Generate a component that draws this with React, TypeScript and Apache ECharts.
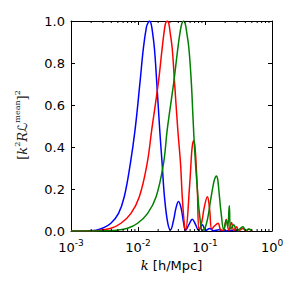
import React, { useEffect, useRef } from "react";
import * as echarts from "echarts";

// log10(k) positions and [k^2 R L^mean]^2 values
const blueLogK = [-3, -2.88, -2.73, -2.625, -2.5305, -2.4045, -2.2905, -2.205, -2.115, -2.0445, -1.9695, -1.92, -1.875, -1.8525, -1.83, -1.8075, -1.785, -1.755, -1.7205, -1.6755, -1.6395, -1.605, -1.5555, -1.515, -1.47, -1.4325, -1.395, -1.3575, -1.32, -1.29, -1.2405, -1.1895, -1.14, -1.095, -1.0395, -0.99, -0.93, -0.87, -0.795, -0.72, -0.6, -0.48];
const blueVals = [0, 0, 0.001, 0.004, 0.013, 0.037, 0.084, 0.163, 0.32, 0.48, 0.71, 0.87, 0.97, 0.99, 1.0, 0.99, 0.95, 0.87, 0.71, 0.48, 0.32, 0.163, 0.037, 0.005, 0.05, 0.11, 0.14, 0.11, 0.04, 0.003, 0.03, 0.056, 0.03, 0.002, 0.03, 0.002, 0.012, 0.001, 0.006, 0, 0.003, 0];

const redLogK = [-3, -2.73, -2.58, -2.4045, -2.2545, -2.1045, -1.98, -1.8645, -1.7955, -1.695, -1.6395, -1.605, -1.587, -1.5645, -1.542, -1.5225, -1.4895, -1.455, -1.4055, -1.365, -1.3395, -1.305, -1.29, -1.23, -1.2, -1.185, -1.17, -1.155, -1.14, -1.1145, -1.0875, -1.05, -1.0125, -0.9645, -0.93, -0.9, -0.855, -0.8055, -0.765, -0.7275, -0.6825, -0.645, -0.605, -0.57, -0.53, -0.495, -0.435, -0.39, -0.345, -0.3];
const redVals = [0, 0, 0.003, 0.013, 0.037, 0.084, 0.163, 0.32, 0.48, 0.71, 0.87, 0.96, 0.99, 1.0, 0.99, 0.95, 0.87, 0.71, 0.48, 0.32, 0.163, 0.02, 0.003, 0.215, 0.37, 0.415, 0.43, 0.415, 0.36, 0.2, 0.005, 0.04, 0.11, 0.163, 0.1, 0.01, 0.025, 0.037, 0.005, 0.003, 0.055, 0.003, 0.04, 0.002, 0.02, 0.001, 0.012, 0.001, 0.008, 0];

const greenLogK = [-3, -2.655, -2.505, -2.31, -2.1555, -2.0055, -1.8555, -1.7295, -1.62, -1.5645, -1.4655, -1.4055, -1.365, -1.3425, -1.32, -1.2975, -1.275, -1.2405, -1.2045, -1.1805, -1.155, -1.1145, -1.08, -1.0395, -1.005, -0.96, -0.915, -0.87, -0.8475, -0.8295, -0.81, -0.795, -0.7575, -0.72, -0.6825, -0.66, -0.6375, -0.615, -0.57, -0.525, -0.48, -0.435, -0.39, -0.345, -0.3];
const greenVals = [0, 0, 0.001, 0.004, 0.013, 0.037, 0.084, 0.163, 0.32, 0.48, 0.71, 0.87, 0.96, 0.99, 1.0, 0.99, 0.95, 0.87, 0.71, 0.55, 0.39, 0.2, 0.076, 0.003, 0.01, 0.06, 0.15, 0.23, 0.255, 0.262, 0.245, 0.2, 0.08, 0.005, 0.05, 0.02, 0.12, 0.01, 0.03, 0.002, 0.01, 0.02, 0.002, 0.01, 0];

const xMajorTicks = [0.001, 0.01, 0.1, 1];
const minorMultipliers = [2, 3, 4, 5, 6, 7, 8, 9];

const toPairs = (lk: number[], v: number[]) => lk.map((l, i) => [Math.pow(10, l), v[i]]);

export default function App() {
  const ref = useRef<HTMLDivElement>(null);
  useEffect(() => {
    if (!ref.current) return;
    const chart = echarts.init(ref.current, null, { renderer: "svg" });
    const minorTicks: number[] = [];
    xMajorTicks.slice(0, -1).forEach((d) => minorMultipliers.forEach((m) => minorTicks.push(d * m)));
    const lineSeries = (data: number[][], color: string) => ({
      type: "line",
      data,
      smooth: 0.4,
      showSymbol: false,
      symbol: "none",
      lineStyle: { color, width: 1.5 },
      z: 3,
    });
    const tickStyle = { color: "#000", width: 1 };
    const axisLine = { show: true, onZero: false, lineStyle: { color: "#000", width: 1 } };
    chart.setOption({
      animation: false,
      grid: { left: 71, right: 28, top: 21, bottom: 69, show: false },
      graphic: [
        {
          type: "text",
          x: 21,
          y: 125,
          rotation: Math.PI / 2,
          style: {
            text: "{t|[}{i|k}{s|2}{i|R}{l|ℒ}{s|mean}{t|]}{s|2}",
            align: "center",
            verticalAlign: "middle",
            fill: "#222",
            rich: {
              t: { fontFamily: "DejaVu Serif", fontSize: 13, fill: "#222", lineHeight: 16, verticalAlign: "bottom" },
              i: { fontFamily: "DejaVu Serif", fontStyle: "italic", fontSize: 13, fill: "#222", lineHeight: 16, verticalAlign: "bottom" },
              l: { fontFamily: "DejaVu Sans", fontSize: 13, fill: "#222", lineHeight: 16, verticalAlign: "bottom" },
              s: { fontFamily: "DejaVu Serif", fontSize: 8, fill: "#222", lineHeight: 16, verticalAlign: "top" },
            },
          },
        },
      ],
      xAxis: [
        {
          type: "log",
          logBase: 10,
          min: 0.001,
          max: 1,
          splitNumber: 3,
          position: "bottom",
          axisLine,
          axisTick: { show: true, inside: true, length: 4, lineStyle: tickStyle },
          splitLine: { show: false },
          axisLabel: {
            margin: 7,
            formatter: (v: number) => `{b|10}{s|${Math.round(Math.log10(v))}}`,
            rich: {
              b: { fontFamily: "DejaVu Sans", fontSize: 13, color: "#000", lineHeight: 16, verticalAlign: "bottom" },
              s: { fontFamily: "DejaVu Sans", fontSize: 9, color: "#000", lineHeight: 16, verticalAlign: "top" },
            },
          },
          name: "{i|k} [h/Mpc]",
          nameLocation: "middle",
          nameGap: 25,
          nameTextStyle: {
            fontFamily: "DejaVu Sans",
            fontSize: 13,
            color: "#000",
            rich: { i: { fontFamily: "DejaVu Serif", fontStyle: "italic", fontSize: 13, color: "#000" } },
          },
        },
        {
          type: "log",
          logBase: 10,
          min: 0.001,
          max: 1,
          splitNumber: 3,
          position: "top",
          axisLine,
          axisTick: { show: true, inside: true, length: 4, lineStyle: tickStyle },
          axisLabel: { show: false },
          splitLine: { show: false },
        },
      ],
      yAxis: [
        {
          type: "value",
          min: 0,
          max: 1,
          interval: 0.2,
          position: "left",
          axisLine,
          axisTick: { show: true, inside: true, length: 4, lineStyle: tickStyle },
          splitLine: { show: false },
          axisLabel: {
            margin: 6,
            fontFamily: "DejaVu Sans",
            fontSize: 13,
            color: "#000",
            formatter: (v: number) => v.toFixed(1),
          },
        },
        {
          type: "value",
          min: 0,
          max: 1,
          interval: 0.2,
          position: "right",
          axisLine,
          axisTick: { show: true, inside: true, length: 4, lineStyle: tickStyle },
          axisLabel: { show: false },
          splitLine: { show: false },
        },
      ],
      series: [
        lineSeries(toPairs(blueLogK, blueVals), "#0000ff"),
        lineSeries(toPairs(redLogK, redVals), "#ff0000"),
        lineSeries(toPairs(greenLogK, greenVals), "#008000"),
        {
          type: "custom",
          data: minorTicks.map((k) => [k, 0]),
          z: 4,
          silent: true,
          renderItem: (params: any, api: any) => {
            const k = api.value(0);
            const b = api.coord([k, 0]);
            const t = api.coord([k, 1]);
            const st = { stroke: "#000", lineWidth: 1 };
            return {
              type: "group",
              children: [
                { type: "line", shape: { x1: b[0], y1: b[1], x2: b[0], y2: b[1] - 2 }, style: st },
                { type: "line", shape: { x1: t[0], y1: t[1], x2: t[0], y2: t[1] + 2 }, style: st },
              ],
            };
          },
        },
      ],
    });
    return () => chart.dispose();
  }, []);
  return (
    <div
      ref={ref}
      style={{ position: "fixed", left: 0, top: 0, width: 300, height: 300, background: "#fff" }}
    />
  );
}
